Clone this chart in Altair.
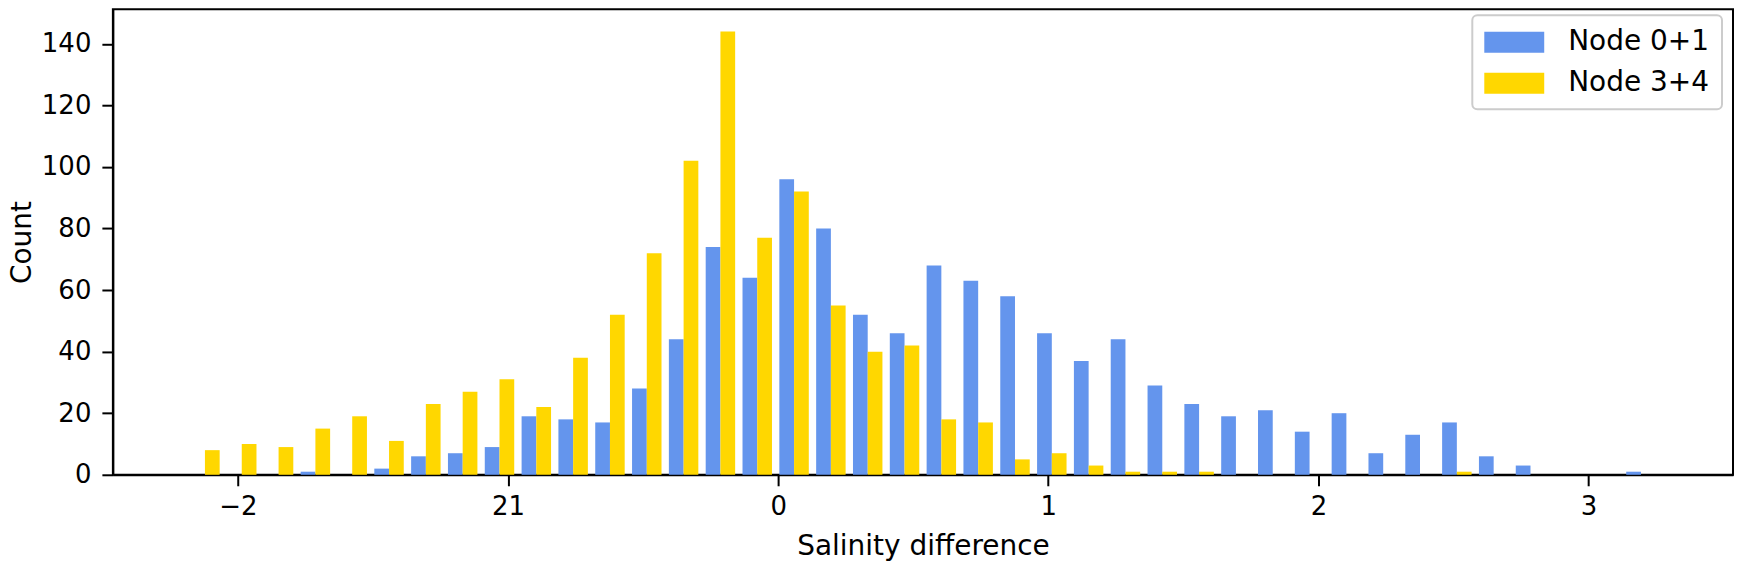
import altair as alt
import pandas as pd

# histogram bins (40 equal bins)
bin_start = -2.19
bin_width = 0.1363

series = ["Node 0+1", "Node 3+4"]
colors = ["#6495ED", "#FFD700"]

node01 = [0, 0, 0, 1, 0, 2, 6, 7, 9, 19,
          18, 17, 28, 44, 74, 64, 96, 80, 52, 46,
          68, 63, 58, 46, 37, 44, 29, 23, 19, 21,
          14, 20, 7, 13, 17, 6, 3, 0, 0, 1]
node34 = [8, 10, 9, 15, 19, 11, 23, 27, 31, 22,
          38, 52, 72, 102, 144, 77, 92, 55, 40, 42,
          18, 17, 5, 7, 3, 1, 1, 1, 0, 0,
          0, 0, 0, 0, 1, 0, 0, 0, 0, 0]

x_ticks = [-2, -1, 0, 1, 2, 3]
y_ticks = [0, 20, 40, 60, 80, 100, 120, 140]

rows = []
for slot, counts in enumerate([node01, node34]):
    for k, c in enumerate(counts):
        rows.append({"series": series[slot], "slot": slot, "bin": k, "count": c})
df = pd.DataFrame(rows)

lo = bin_start
hi = bin_start + bin_width * len(node01)
margin = 0.05 * (hi - lo)
ymax = 1.05 * max(max(node01), max(node34))

W, H = 1622, 466

chart = alt.Chart(df).mark_bar(strokeWidth=0).transform_calculate(
    left=f"{bin_start} + datum.bin * {bin_width} + {bin_width} * (0.1 + 0.4 * datum.slot)",
).transform_calculate(
    right=f"datum.left + 0.4 * {bin_width}",
).encode(
    x=alt.X(
        "left:Q",
        scale=alt.Scale(domain=[lo - margin, hi + margin], nice=False, zero=False),
        axis=alt.Axis(
            values=x_ticks,
            title="Salinity difference",
            labelExpr="datum.value == -1 ? '21' : datum.value < 0 ? '−' + abs(datum.value) : datum.label",
            labelPadding=8,
            titleY=80,
            titleBaseline="alphabetic",
        ),
    ),
    x2="right:Q",
    y=alt.Y(
        "count:Q",
        scale=alt.Scale(domain=[0, ymax], nice=False),
        axis=alt.Axis(
            values=y_ticks,
            title="Count",
            labelPadding=11,
            titleX=-82,
            titleY=H / 2,
            titleAlign="center",
            titleBaseline="alphabetic",
        ),
    ),
    y2=alt.datum(0),
    color=alt.Color(
        "series:N",
        scale=alt.Scale(domain=series, range=colors),
        title=None,
        legend=alt.Legend(
            orient="none",
            legendX=1361,
            legendY=6,
            fillColor="white",
            strokeColor="#cccccc",
            cornerRadius=5,
            padding=12,
            symbolType="M-2,-0.7H2V0.7H-2Z",
            symbolSize=900,
            symbolOffset=15,
            symbolStrokeWidth=0,
            symbolOpacity=1,
            labelFont="DejaVu Sans",
            labelFontSize=28,
            labelColor="black",
            labelOffset=39,
            rowPadding=12,
        ),
    ),
).properties(
    width=W,
    height=H,
    autosize=alt.AutoSizeParams(type="none"),
    padding={"left": 105, "top": 1, "right": 2, "bottom": 87},
).configure(
    font="DejaVu Sans",
).configure_legend(
    strokeWidth=2,
).configure_view(
    stroke="black",
    strokeWidth=2,
).configure_axis(
    grid=False,
    labelFont="DejaVu Sans",
    labelFontSize=26,
    labelColor="black",
    titleFont="DejaVu Sans",
    titleFontSize=28,
    titleFontWeight="normal",
    titleColor="black",
    domainColor="black",
    domainWidth=2,
    tickColor="black",
    tickWidth=2,
    tickSize=11,
)

chart.save("out.html", embed_options={"renderer": "svg", "actions": False})
